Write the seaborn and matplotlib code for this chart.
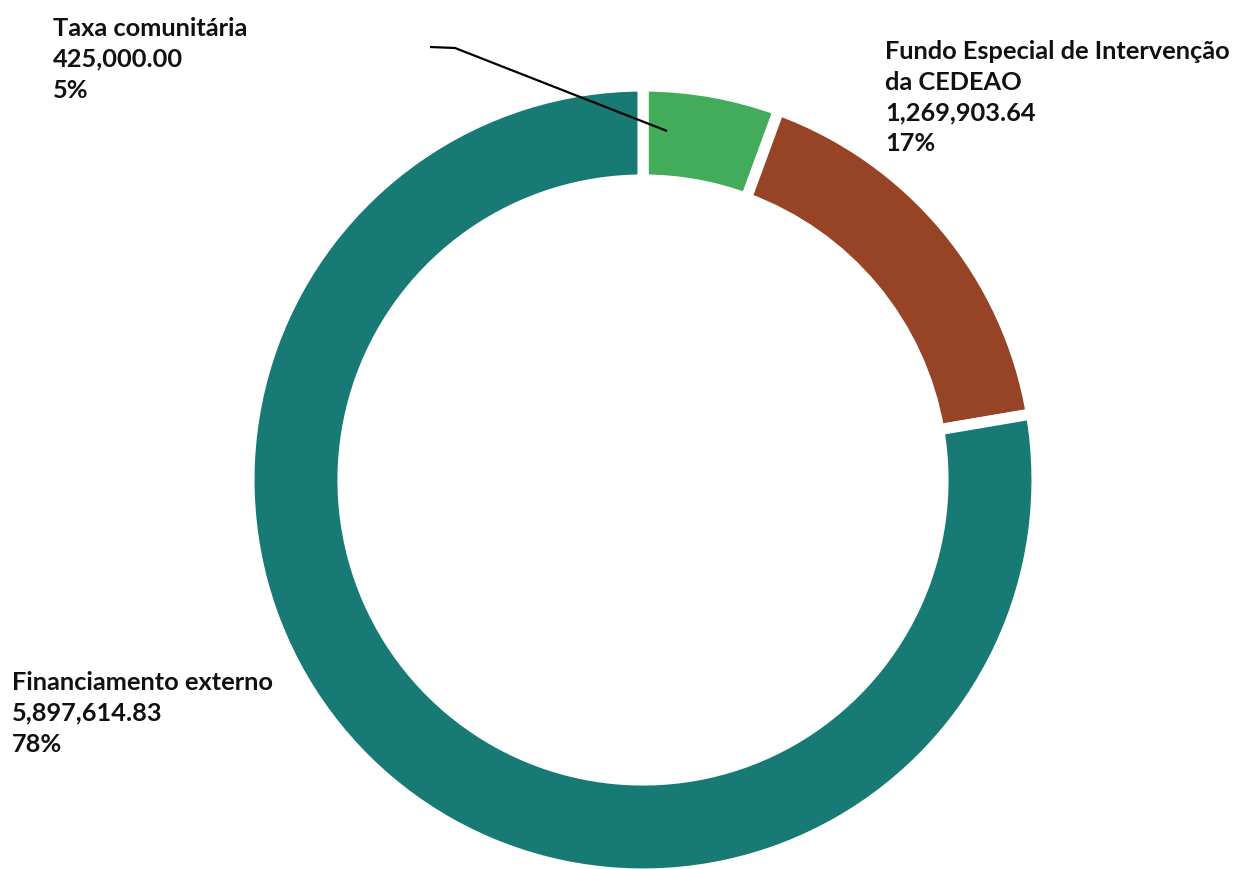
import matplotlib
matplotlib.use("Agg")
import matplotlib.pyplot as plt
import seaborn as sns

sns.set_theme(style="white")
plt.rcParams['font.family'] = ['Lato', 'DejaVu Sans']

categories = ["Taxa comunitária", "Fundo Especial de Intervenção\nda CEDEAO", "Financiamento externo"]
values = [425000.00, 1269903.64, 5897614.83]
value_labels = ["425,000.00", "1,269,903.64", "5,897,614.83"]
pct_labels = ["5%", "17%", "78%"]
colors = ["#43AC5A", "#974426", "#177A75"]

W, H = 1239, 869
fig = plt.figure(figsize=(W / 100, H / 100), dpi=100)
ax = fig.add_axes([0, 0, 1, 1])
ax.set_xlim(0, W)
ax.set_ylim(0, H)
ax.set_aspect("equal")
ax.axis("off")

cx, cy = 643, H - 480
R = 394
ax.pie(values, colors=colors, startangle=90, counterclock=False,
       radius=R, center=(cx, cy), frame=True,
       wedgeprops=dict(width=R - 300, edgecolor="white", linewidth=8))
ax.set_xlim(0, W)
ax.set_ylim(0, H)
ax.axis("off")

# labels
positions = [(53, H - 17), (885, H - 40), (12, H - 671)]
for cat, v, p, (x, y) in zip(categories, value_labels, pct_labels, positions):
    ax.text(x, y, f"{cat}\n{v}\n{p}", ha="left", va="top", fontsize=18.3,
            fontweight="bold", color="#111111", linespacing=1.41)

# leader line for the small slice
ax.plot([430, 455, 667], [H - 47, H - 48, H - 131], color="black", lw=1.6,
        solid_capstyle="butt")

fig.savefig("out.png", dpi=100)
